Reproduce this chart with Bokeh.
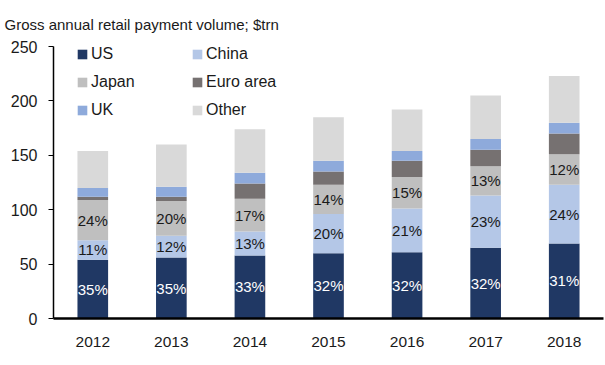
from bokeh.plotting import figure
from bokeh.models import ColumnDataSource, Legend, LegendItem
from bokeh.core.properties import value
from bokeh.embed import file_html
from bokeh.resources import INLINE

# ---- data ----
years = ["2012", "2013", "2014", "2015", "2016", "2017", "2018"]
us = [54, 56, 58, 60, 61, 65, 69]
china = [18, 20, 22, 36, 40, 48, 54]
japan = [37, 32, 30, 27, 29, 27, 28]
euro = [3, 4, 14, 12, 15, 15, 19]
uk = [8, 9, 10, 10, 9, 10, 10]
other = [34, 39, 40, 40, 38, 40, 43]
us_pct = [35, 35, 33, 32, 32, 32, 31]
china_pct = [11, 12, 13, 20, 21, 23, 24]
japan_pct = [24, 20, 17, 14, 15, 13, 12]
series_names = ["US", "China", "Japan", "Euro area", "UK", "Other"]
series_keys = ["us", "china", "japan", "euro", "uk", "other"]
colors = ["#203864", "#b4c7e7", "#bfbfbf", "#767171", "#8eaadb", "#d9d9d9"]
y_ticks = [0, 50, 100, 150, 200, 250]
title_text = "Gross annual retail payment volume; $trn"

FONT = "Liberation Sans"

src = ColumnDataSource(dict(year=years, us=us, china=china, japan=japan,
                            euro=euro, uk=uk, other=other))

p = figure(x_range=years, y_range=(0, 250), width=605, height=365,
           output_backend="svg", toolbar_location=None,
           min_border_left=53, min_border_right=2, min_border_top=44,
           min_border_bottom=47)

p.title.text = title_text
p.title.align = "left"
p.title.offset = -49
p.title.standoff = 27
p.title.text_font = FONT
p.title.text_font_size = "15px"
p.title.text_font_style = "normal"
p.title.text_color = "#1a1a1a"

renderers = p.vbar_stack(series_keys, x="year", width=0.39, source=src,
                         color=colors, line_color=None)

# data labels
lab_x, lab_y, lab_t, lab_c = [], [], [], []
for i, yr in enumerate(years):
    lab_x += [yr, yr, yr]
    lab_y += [us[i] / 2, us[i] + china[i] / 2, us[i] + china[i] + japan[i] / 2]
    lab_t += [f"{us_pct[i]}%", f"{china_pct[i]}%", f"{japan_pct[i]}%"]
    lab_c += ["white", "#1a1a1a", "#1a1a1a"]
lsrc = ColumnDataSource(dict(x=lab_x, y=lab_y, t=lab_t, c=lab_c))
p.text(x="x", y="y", text="t", source=lsrc, text_color="c",
       text_font=value(FONT), text_font_size="15px",
       text_align="center", text_baseline="middle")

legend = Legend(items=[LegendItem(label=n, renderers=[r])
                       for n, r in zip(series_names, renderers)],
                orientation="horizontal", ncols=2, location=(23, 199),
                padding=0, margin=0, spacing=10,
                glyph_width=12, glyph_height=12, label_standoff=3,
                label_width=90, label_height=18,
                label_text_font=FONT, label_text_font_size="16px",
                label_text_color="#1a1a1a",
                border_line_color=None, background_fill_alpha=0)
p.add_layout(legend)

p.xgrid.grid_line_color = None
p.ygrid.grid_line_color = None
p.outline_line_color = None

p.yaxis.ticker = y_ticks
p.yaxis.major_tick_out = 5
p.yaxis.major_tick_in = 0
p.yaxis.minor_tick_out = 0
p.yaxis.minor_tick_in = 0
p.yaxis.axis_line_width = 1.5
p.yaxis.axis_line_color = "black"
p.yaxis.major_tick_line_color = "black"
p.yaxis.major_label_standoff = 11
p.yaxis.major_label_text_font = FONT
p.yaxis.major_label_text_font_size = "16px"
p.yaxis.major_label_text_color = "#1a1a1a"

p.xaxis.major_tick_out = 0
p.xaxis.major_tick_in = 0
p.xaxis.axis_line_width = 2.5
p.xaxis.axis_line_color = "black"
p.xaxis.major_label_standoff = 18
p.xaxis.major_label_text_font = FONT
p.xaxis.major_label_text_font_size = "15.5px"
p.xaxis.major_label_text_color = "#1a1a1a"

open("out.html", "w").write(file_html(p, INLINE))
